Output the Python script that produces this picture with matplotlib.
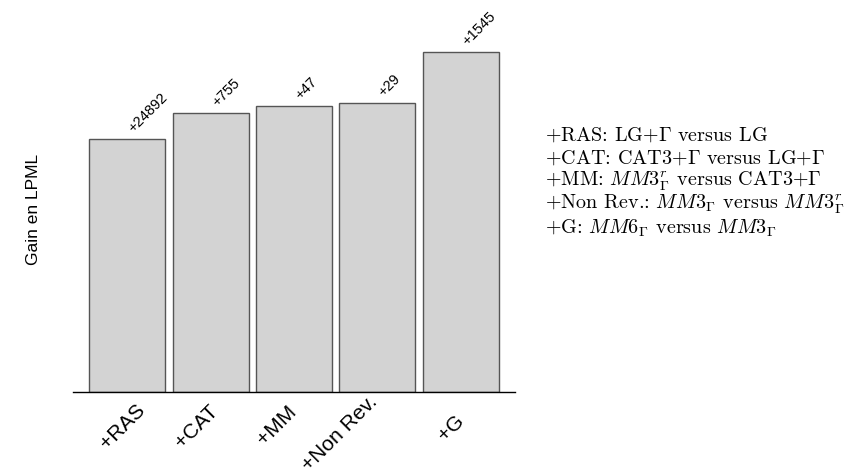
import matplotlib
matplotlib.use("Agg")
import matplotlib.pyplot as plt

plt.rcParams['font.family'] = ['Liberation Sans', 'DejaVu Sans']
plt.rcParams['mathtext.fontset'] = 'cm'

# data (bar heights in arbitrary units)
categories = ['+RAS', '+CAT', '+MM', '+Non Rev.', '+G']
bar_heights = [253, 279, 286, 289, 340]
gain_labels = ['+24892', '+755', '+47', '+29', '+1545']
legend_lines = [
    r'+RAS: LG+$\Gamma$ versus LG',
    r'+CAT: CAT3+$\Gamma$ versus LG+$\Gamma$',
    r'+MM: $MM3^r_\Gamma$ versus CAT3+$\Gamma$',
    r'+Non Rev.: $MM3_\Gamma$ versus $MM3^r_\Gamma$',
    r'+G: $MM6_\Gamma$ versus $MM3_\Gamma$',
]
# where each category label's centre sits, in pixels from the bar centre / axis line
label_nudge = [(-5, -35), (-14, -35), (-17, -33), (-38, -41), (-10, -36)]

W, H = 858, 476
fig = plt.figure(figsize=(W / 100, H / 100), dpi=100)
ax = fig.add_axes([73 / W, 84 / H, 442 / W, 352 / H])

x = list(range(len(categories)))
ax.bar(x, bar_heights, width=0.91, color='#d3d3d3', edgecolor='#555555', linewidth=1)

ax.set_xlim(-0.65, len(categories) - 1 + 0.65)
ax.set_ylim(0, 352)
for s in ['left', 'right', 'top']:
    ax.spines[s].set_visible(False)
ax.spines['bottom'].set_linewidth(1)
ax.set_yticks([])
ax.set_xticks(x)
ax.set_xticklabels([])
ax.tick_params(axis='x', length=0)

# rotated category labels under the axis (offsets given in px -> points)
for xi, lab, (dx, dy) in zip(x, categories, label_nudge):
    ax.annotate(lab, (xi, 0), xytext=(dx * 0.72, dy * 0.72), textcoords='offset points',
                rotation=45, rotation_mode='anchor', ha='center', va='center',
                fontsize=15)

# gain values over the bars
for xi, h, g in zip(x, bar_heights, gain_labels):
    ax.annotate(g, (xi, h), xytext=(6, 3), textcoords='offset points',
                rotation=45, rotation_mode='anchor', ha='left', va='bottom',
                fontsize=10.5)

fig.text(33 / W, 1 - 209 / H, 'Gain en LPML', rotation=90, ha='center', va='center',
         fontsize=12.5)

for i, line in enumerate(legend_lines):
    fig.text(545 / W, 1 - (135 + i * 23.3) / H, line, ha='left', va='center',
             fontsize=14.5, family='cmr10')

fig.savefig('out.png', dpi=100)
